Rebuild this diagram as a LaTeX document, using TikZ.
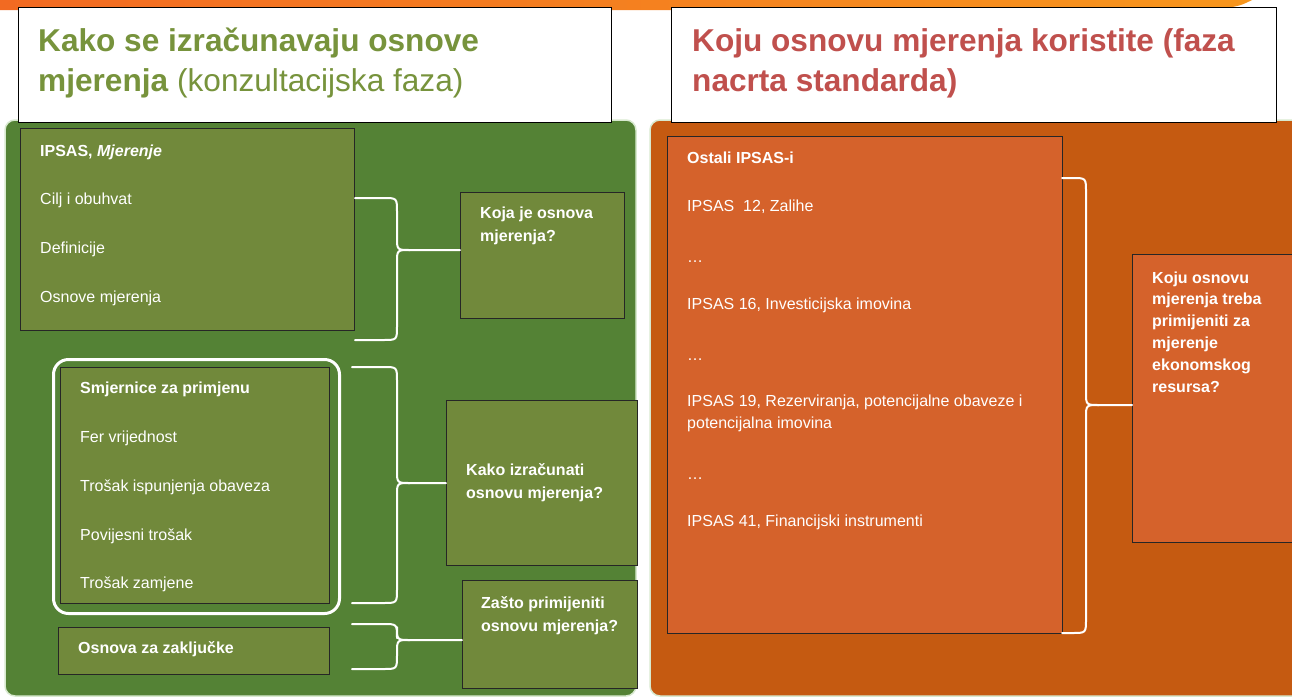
\documentclass[tikz,border=0pt]{standalone}
\usepackage{fontspec}
\setmainfont{Liberation Sans}
\usetikzlibrary{calc}

\definecolor{bandL}{HTML}{F26A22}
\definecolor{bandR}{HTML}{F7961D}
\definecolor{panelgreen}{HTML}{548235}
\definecolor{boxolive}{HTML}{71893B}
\definecolor{panelorange}{HTML}{C55A11}
\definecolor{boxorange}{HTML}{D5622B}
\definecolor{panelrim}{HTML}{D8E9CF}
\definecolor{titlegreen}{HTML}{77933C}
\definecolor{titlered}{HTML}{C0504D}

\tikzset{
  titlebox/.style={draw=black, line width=1pt, fill=white, anchor=north west},
  panel/.style={draw=panelrim, line width=1.5pt, rounded corners=10pt},
  olivebox/.style={draw=black!85, line width=1pt, fill=boxolive, anchor=north west},
  orangebox/.style={draw=black!85, line width=1pt, fill=boxorange, anchor=north west},
  item/.style={text=white, anchor=base west, inner sep=0pt, align=left,
    font=\fontsize{16}{23}\selectfont},
  headitem/.style={item, font=\fontsize{16}{23}\selectfont\bfseries},
  question/.style={item, font=\fontsize{16}{23}\selectfont\bfseries},
  bracel/.style={draw=white, line width=2pt, line cap=round, line join=round},
  frame/.style={draw=white, line width=3pt, rounded corners=15pt, anchor=north west}
}

\begin{document}
\begin{tikzpicture}[x=1pt, y=-1pt]
\useasboundingbox (0,0) rectangle (1292,697);

% brace: left x, top y, bottom y, spine x, tip y, target node
\newcommand{\kbrace}[6]{
  \draw[bracel] (#1,#2) -- (#4-14,#2) .. controls (#4,#2) .. (#4,#2+14)
    -- (#4,#5-13) .. controls (#4,#5) .. (#4+13,#5) -- (#6.west |- 0,#5);
  \draw[bracel] (#4+13,#5) .. controls (#4,#5) .. (#4,#5+13)
    -- (#4,#3-14) .. controls (#4,#3) .. (#4-14,#3) -- (#1,#3);
}

% orange band on top
\shade[left color=bandL, right color=bandR]
  (0,0) -- (1252,0) .. controls (1238,7) .. (1200,10) -- (0,10) -- cycle;

% panels
\fill[panelgreen, rounded corners=10pt] (5,120) rectangle (636,696);
\draw[panel] (5,120) rectangle (636,696);
\fill[panelorange, rounded corners=10pt] (650,120) rectangle (1310,696);
\draw[panel] (650,120) rectangle (1310,696);

% titles (base anchor sits on the last line)
\node[titlebox, minimum width=593pt, minimum height=115pt] (ltitle) at (18,7) {};
\node[anchor=base west, inner sep=0pt, align=left, text=titlegreen,
  font=\fontsize{31.6}{40}\selectfont] (ltext) at (38,91)
  {\textbf{Kako se izračunavaju osnove}\\\textbf{mjerenja} (konzultacijska faza)};
\node[titlebox, minimum width=605pt, minimum height=115pt] (rtitle) at (671,7) {};
\node[anchor=base west, inner sep=0pt, align=left, text=titlered,
  font=\fontsize{31.6}{40}\bfseries\selectfont] (rtext) at (692,91)
  {Koju osnovu mjerenja koristite (faza\\nacrta standarda)};

% left side: IPSAS, Mjerenje
\node[olivebox, minimum width=334pt, minimum height=202pt] (ipsas) at (20,128) {};
\node[headitem] (ipsash) at (40,156) {IPSAS, \textit{Mjerenje}};
\foreach \y/\t in {204/Cilj i obuhvat, 253/Definicije, 302/Osnove mjerenja}
  \node[item] (ip\y) at (40,\y) {\t};

\node[olivebox, minimum width=164pt, minimum height=126pt] (q1) at (460,192) {};
\node[question] (q1t) at (480,241) {Koja je osnova\\mjerenja?};

% guidance
\node[frame, minimum width=286pt, minimum height=254pt] (grp) at (52,358) {};
\node[olivebox, minimum width=269pt, minimum height=236pt] (guide) at (60,367) {};
\node[headitem] (guideh) at (80,393) {Smjernice za primjenu};
\foreach \y/\t in {442/Fer vrijednost, 491/Trošak ispunjenja obaveza,
                   540/Povijesni trošak, 588/Trošak zamjene}
  \node[item] (g\y) at (80,\y) {\t};

\node[olivebox, minimum width=191pt, minimum height=165pt] (q2) at (446,400) {};
\node[question] (q2t) at (466,498) {Kako izračunati\\osnovu mjerenja?};

% basis for conclusions
\node[olivebox, minimum width=271pt, minimum height=47pt] (bfc) at (58,627) {};
\node[headitem] (bfct) at (78,653) {Osnova za zaključke};

\node[olivebox, minimum width=175pt, minimum height=108pt] (q3) at (462,580) {};
\node[question] (q3t) at (481,631) {Zašto primijeniti\\osnovu mjerenja?};

\kbrace{355}{198}{340}{397}{250}{q1}
\kbrace{352}{367}{603}{397}{483}{q2}
\kbrace{352}{624}{669}{397}{640}{q3}

% right side: other IPSASs
\node[orangebox, minimum width=395pt, minimum height=497pt] (other) at (667,136) {};
\node[headitem] (otherh) at (687,163) {Ostali IPSAS-i};
\foreach \y/\t in {211/{IPSAS\ \ 12, Zalihe}, 262/…, 309/{IPSAS 16, Investicijska imovina},
                   360/…, 428/{IPSAS 19, Rezerviranja, potencijalne obaveze i\\potencijalna imovina},
                   479/…, 526/{IPSAS 41, Financijski instrumenti}}
  \node[item, font=\fontsize{16}{22}\selectfont] (o\y) at (687,\y) {\t};

\node[orangebox, minimum width=170pt, minimum height=288pt] (q4) at (1132,254) {};
\node[question, font=\fontsize{16}{21.8}\bfseries\selectfont] (q4t) at (1152,392)
  {Koju osnovu\\mjerenja treba\\primijeniti za\\mjerenje\\ekonomskog\\resursa?};

\kbrace{1062}{178}{633}{1086}{405}{q4}
\end{tikzpicture}
\end{document}
